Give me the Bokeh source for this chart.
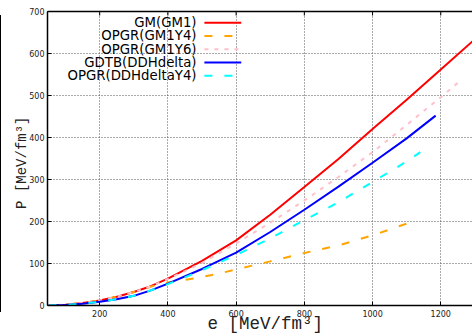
from bokeh.plotting import figure
from bokeh.layouts import row
from bokeh.models import LinearAxis, FixedTicker, Range1d, Div
from bokeh.core.properties import value
from bokeh.embed import file_html
from bokeh.resources import INLINE

# Pressure P [MeV/fm^3] against energy density e [MeV/fm^3]
gm1_e = [50, 100, 150, 200, 250, 300, 350, 400, 500, 600, 700, 800, 900, 1000, 1100, 1200, 1300]
gm1_p = [0, 2, 6, 12, 21, 32, 46, 64, 106, 155, 216, 282, 349, 420, 490, 562, 634]

gm1y4_e = [50, 100, 150, 200, 250, 300, 350, 400, 450, 500, 550, 600, 700, 800, 900, 1000, 1100]
gm1y4_p = [0, 2, 6, 12, 21, 32, 45, 55, 61, 68, 76, 86, 105, 125, 143, 167, 195]

gm1y6_e = [50, 100, 150, 200, 250, 300, 350, 400, 450, 500, 600, 700, 800, 900, 1000, 1100, 1200, 1250]
gm1y6_p = [0, 2, 6, 12, 21, 32, 46, 63, 82, 101, 148, 197, 250, 306, 365, 430, 496, 530]

ddh_e = [50, 100, 150, 200, 250, 300, 350, 400, 500, 600, 700, 800, 900, 1000, 1100, 1185]
ddh_p = [0, 1, 4, 9, 15, 23, 36, 52, 87, 126, 175, 228, 283, 340, 398, 452]

ddhy4_e = [50, 100, 150, 200, 250, 300, 350, 400, 450, 500, 600, 700, 800, 900, 1000, 1100, 1140]
ddhy4_p = [0, 1, 4, 9, 15, 23, 36, 51, 67, 84, 120, 160, 203, 246, 294, 343, 365]

series_names = ["GM(GM1)", "OPGR(GM1Y4)", "OPGR(GM1Y6)", "GDTB(DDHdelta)", "OPGR(DDHdeltaY4)"]
series_colors = ["#ff0000", "#ffa500", "#ffc0cb", "#0000ff", "#00ffff"]
series_dashes = ["solid", "8 12", "4 6", "solid", "8 12"]

x_ticks = [200, 400, 600, 800, 1000, 1200]
y_ticks = [0, 100, 200, 300, 400, 500, 600, 700]

# the two leading no-break spaces nudge the caption a little right of centre
x_title = "\u00a0\u00a0e  [MeV/fm³]"
y_title = "P  [MeV/fm³]"

label_font = "DejaVu Sans"
axis_font = "Liberation Mono"

X_MIN, X_MAX = 47, 1293
Y_MIN, Y_MAX = 0, 700

p = figure(
    width=471, height=336,
    x_range=Range1d(X_MIN, X_MAX), y_range=Range1d(Y_MIN, Y_MAX),
    output_backend="svg", toolbar_location=None,
    min_border_left=46, min_border_right=0, min_border_top=11, min_border_bottom=31,
    x_axis_label=x_title, y_axis_label=y_title,
)
p.outline_line_color = None
p.background_fill_color = "white"
p.border_fill_color = "white"

# bottom / left axes with inward ticks
for ax in (p.xaxis[0], p.yaxis[0]):
    ax.axis_line_color = "black"
    ax.axis_line_width = 1.5
    ax.major_tick_in = 4
    ax.major_tick_out = 0
    ax.major_tick_line_color = "black"
    ax.minor_tick_line_color = None
    ax.major_label_text_font = label_font
    ax.major_label_text_font_size = "8px"
    ax.major_label_text_color = "#222222"
    ax.axis_label_text_font = axis_font
    ax.axis_label_text_font_style = "normal"
    ax.axis_label_text_color = "#222222"

p.xaxis[0].ticker = FixedTicker(ticks=x_ticks)
p.yaxis[0].ticker = FixedTicker(ticks=y_ticks)
p.xaxis[0].major_label_standoff = 4
p.xaxis[0].axis_label_standoff = -6
p.xaxis[0].axis_label_text_font_size = "17.5px"
p.yaxis[0].major_label_standoff = 3
p.yaxis[0].axis_label_standoff = -4
p.yaxis[0].axis_label_text_font_size = "14px"

# top edge: plain line, with inward tick marks drawn as short segments
top = LinearAxis(ticker=FixedTicker(ticks=[]))
top.axis_line_color = "black"
top.axis_line_width = 1.5
top.minor_tick_line_color = None
top.major_tick_line_color = None
p.add_layout(top, "above")
tick_len = 4 * (Y_MAX - Y_MIN) / 294.0
p.segment(x0=x_ticks, y0=[Y_MAX] * len(x_ticks), x1=x_ticks, y1=[Y_MAX - tick_len] * len(x_ticks),
          line_color="black", line_width=1)

# dotted grid
p.xgrid.ticker = FixedTicker(ticks=x_ticks)
p.ygrid.ticker = FixedTicker(ticks=y_ticks[1:-1])
for g in (p.xgrid[0], p.ygrid[0]):
    g.grid_line_color = "#555555"
    g.grid_line_dash = "1 2"
    g.grid_line_width = 1

curves = [(gm1_e, gm1_p), (gm1y4_e, gm1y4_p), (gm1y6_e, gm1y6_p), (ddh_e, ddh_p), (ddhy4_e, ddhy4_p)]
for (ex, px), col, dash in zip(curves, series_colors, series_dashes):
    p.line(ex, px, line_color=col, line_width=2, line_dash=dash)

# key: right-aligned names with a line sample to their right
key_text_x = 484
key_x0, key_x1 = 507, 615
key_top, key_step = 673.5, 31.6
key_y = [key_top - i * key_step for i in range(len(series_names))]
for name, col, dash, ky in zip(series_names, series_colors, series_dashes, key_y):
    p.line([key_x0, key_x1], [ky, ky], line_color=col, line_width=2, line_dash=dash)
p.text(
    x=[key_text_x] * len(series_names), y=key_y, text=series_names,
    text_align="right", text_baseline="middle",
    text_font=value(label_font), text_font_size="13.3px", text_color="black",
)

# thin rule at the far left of the page
rule = Div(width=1, height=297, margin=(15, 0, 0, 0), styles={"background-color": "black"})

layout = row(rule, p, spacing=0)
open("out.html", "w").write(file_html(layout, INLINE))
